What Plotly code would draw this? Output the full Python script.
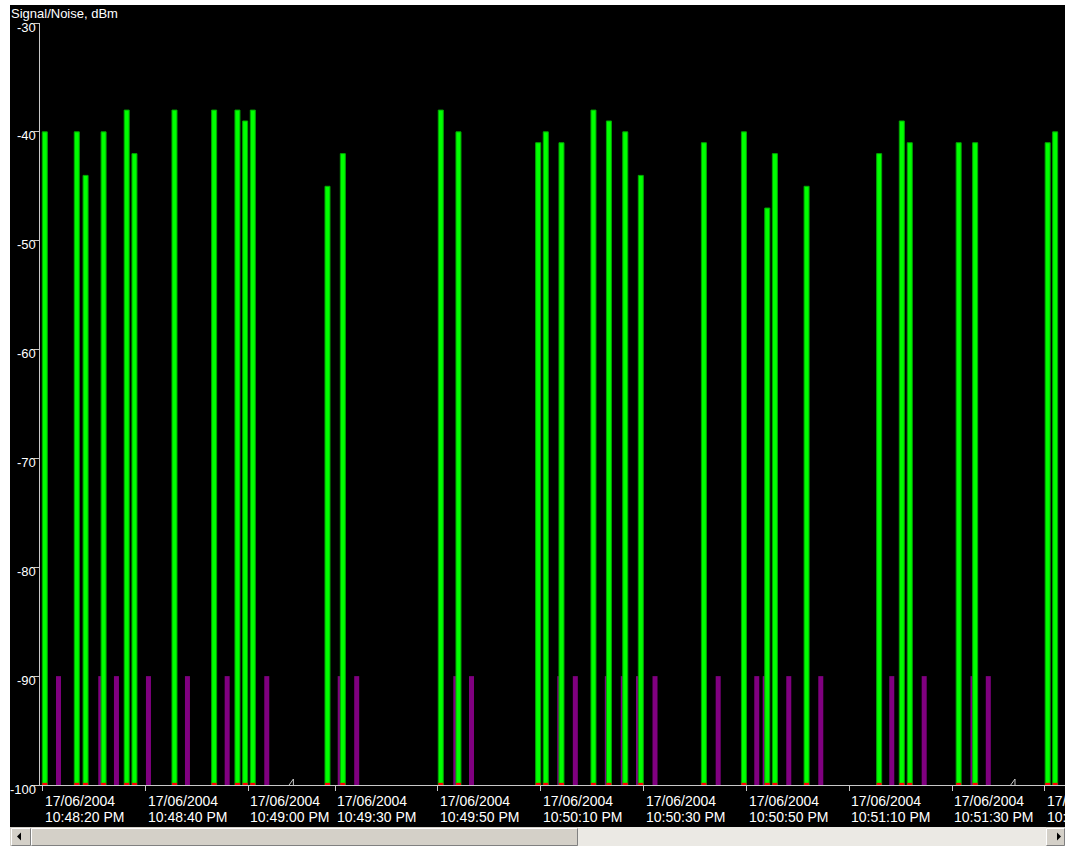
import plotly.graph_objects as go

# ---------------- data ----------------
DATE = "2004-06-17"

signal_times = [
    "22:48:20.41", "22:48:26.63", "22:48:28.34", "22:48:31.84", "22:48:36.33",
    "22:48:37.84", "22:48:45.62", "22:48:53.33", "22:48:57.86", "22:48:59.36",
    "22:49:00.84",
    "22:49:28.54", "22:49:31.52", "22:49:50.56", "22:49:54.00", "22:50:09.49",
    "22:50:10.97", "22:50:14.02", "22:50:20.24", "22:50:23.24", "22:50:26.42",
    "22:50:29.44", "22:50:41.70", "22:50:49.48", "22:50:54.02", "22:50:55.50",
    "22:51:01.66", "22:51:15.77", "22:51:20.17", "22:51:21.72", "22:51:31.22",
    "22:51:34.43",
    "22:52:00.52", "22:52:01.98",
]
signal_dbm = [
    -40, -40, -44, -40, -38, -42, -38, -38, -38, -39, -38,
    -45, -42, -38, -40, -41, -40, -41, -38, -39, -40, -44, -41, -40, -47, -42,
    -45, -42, -39, -41, -41, -41,
    -41, -40,
]
floor_dbm = [
    -99.8, -99.8, -99.8, -99.8, -99.8, -99.8, -99.8, -99.8, -99.8, -99.8, -99.8,
    -99.8, -99.8, -99.8, -99.8, -99.8, -99.8, -99.8, -99.8, -99.8, -99.8, -99.8,
    -99.8, -99.8, -99.8, -99.8, -99.8, -99.8, -99.8, -99.8, -99.8, -99.8,
    -99.8, -99.8,
]
noise_times = [
    "22:48:23.07", "22:48:31.29", "22:48:34.34", "22:48:40.56", "22:48:48.14",
    "22:48:55.86", "22:49:03.56",
    "22:49:31.01", "22:49:34.22", "22:49:53.48", "22:49:56.53", "22:50:13.69",
    "22:50:16.71", "22:50:22.93", "22:50:26.04", "22:50:28.99", "22:50:32.20",
    "22:50:44.48", "22:50:51.98", "22:50:53.62", "22:50:58.20", "22:51:04.42",
    "22:51:18.22", "22:51:24.52", "22:51:34.00", "22:51:36.98",
]
noise_dbm = [
    -90, -90, -90, -90, -90, -90, -90,
    -90, -90, -90, -90, -90, -90, -90, -90, -90, -90,
    -90, -90, -90, -90, -90, -90, -90, -90, -90,
]

tick_times = ["22:48:20", "22:48:40", "22:49:00", "22:49:30", "22:49:50", "22:50:10",
              "22:50:30", "22:50:50", "22:51:10", "22:51:30", "22:52:00"]
tick_dates = ["17/06/2004"] * 11
tick_clock = ["10:48:20 PM", "10:48:40 PM", "10:49:00 PM", "10:49:30 PM", "10:49:50 PM",
              "10:50:10 PM", "10:50:30 PM", "10:50:50 PM", "10:51:10 PM", "10:51:30 PM",
              "10:52:00 PM"]

y_ticks = [-100, -90, -80, -70, -60, -50, -40, -30]
y_labels = ["-100", "-90", "-80", "-70", "-60", "-50", "-40", "-30"]

break_starts = ["22:49:08.73", "22:51:42.17"]
break_lengths_ms = [13180, 12000]
x_start, x_end = "22:48:19.48", "22:52:03.89"

BAR_MS = 972
FONT = "Liberation Sans, Arial, sans-serif"


def ts(t):
    return f"{DATE} {t}"


# ---------------- figure ----------------
fig = go.Figure()
fig.add_trace(go.Bar(x=[ts(t) for t in noise_times], y=[v + 100 for v in noise_dbm], base=-100,
                     width=BAR_MS, marker=dict(color="#800080", line=dict(width=0)), name="Noise"))
fig.add_trace(go.Bar(x=[ts(t) for t in signal_times], y=[v + 100 for v in signal_dbm], base=-100,
                     width=BAR_MS, marker=dict(color="#00ff00", line=dict(width=1, color="#00a800")),
                     name="Signal"))
fig.add_trace(go.Bar(x=[ts(t) for t in signal_times], y=[v + 100 for v in floor_dbm], base=-100,
                     width=BAR_MS, marker=dict(color="#ff0000", line=dict(width=0)), name="Floor"))

W, H = 1065, 846
L, R, T, B = 40, 0, 23, 61
PW, PH = W - L - R, H - T - B


def xp(px):
    return (px - L) / PW


def yp(py):
    return (H - B - py) / PH


shapes = []
# black chart panel
shapes.append(dict(type="rect", xref="paper", yref="paper", x0=xp(10), x1=xp(1066), y0=yp(827), y1=yp(5),
                   fillcolor="black", line=dict(width=0), layer="below"))


def rect(x0, y0, x1, y1, fill):
    shapes.append(dict(type="rect", xref="paper", yref="paper", x0=xp(x0), x1=xp(x1), y0=yp(y1), y1=yp(y0),
                       fillcolor=fill, line=dict(width=0), layer="above"))


def line(x0, y0, x1, y1, col):
    shapes.append(dict(type="line", xref="paper", yref="paper", x0=xp(x0), x1=xp(x1), y0=yp(y0), y1=yp(y1),
                       line=dict(color=col, width=1), layer="above"))


def tri(pts):
    path = "M " + " L ".join(f"{xp(a)},{yp(b)}" for a, b in pts) + " Z"
    shapes.append(dict(type="path", xref="paper", yref="paper", path=path, fillcolor="black",
                       line=dict(width=0), layer="above"))


# scrollbar
rect(10, 827, 1066, 847, "#d4d0c8")
rect(578, 827, 1046, 847, "#ebe9e4")
for (a, b) in [(11, 31), (31, 578), (1046, 1065)]:
    rect(a, 828, b, 846, "#d4d0c8")
    line(a + 0.5, 828.5, b - 0.5, 828.5, "#ffffff")
    line(a + 0.5, 828.5, a + 0.5, 845.5, "#ffffff")
    line(a + 0.5, 845.5, b - 0.5, 845.5, "#808080")
    line(b - 0.5, 828.5, b - 0.5, 845.5, "#808080")
tri([(17, 836.5), (21, 832.5), (21, 840.5)])
tri([(1061, 836.5), (1057, 832.5), (1057, 840.5)])

# axis-break zigzags
for bs in break_starts:
    shapes.append(dict(type="path", xref="x", yref="y", xsizemode="pixel", ysizemode="pixel",
                       xanchor=ts(bs), yanchor=-100, path="M -5,-1 L 0,6 L 0,-4 L 4,-1",
                       line=dict(color="#c8c8c8", width=1), layer="above"))

annotations = [dict(text="Signal/Noise, dBm", xref="paper", yref="paper", x=xp(9), y=1,
                    xanchor="left", yanchor="bottom", yshift=0, showarrow=False,
                    font=dict(family=FONT, size=13, color="white"))]
for v, lab in zip(y_ticks, y_labels):
    annotations.append(dict(text=lab, xref="paper", yref="y", x=xp(38), y=v, xanchor="right",
                            yanchor="middle", yshift=-4, showarrow=False,
                            font=dict(family=FONT, size=13, color="white")))
for t, d, c in zip(tick_times, tick_dates, tick_clock):
    annotations.append(dict(text=d, xref="x", yref="paper", x=ts(t), y=0, xanchor="left", yanchor="top",
                            yshift=-6, showarrow=False, font=dict(family=FONT, size=14, color="white")))
    annotations.append(dict(text=c, xref="x", yref="paper", x=ts(t), y=0, xanchor="left", yanchor="top",
                            yshift=-22, showarrow=False, font=dict(family=FONT, size=14, color="white")))

fig.update_layout(
    width=W, height=H, autosize=False,
    margin=dict(l=L, r=R, t=T, b=B, pad=0),
    paper_bgcolor="white", plot_bgcolor="black",
    barmode="overlay", showlegend=False, hovermode=False,
    shapes=shapes, annotations=annotations,
    xaxis=dict(type="date", range=[ts(x_start), ts(x_end)],
               rangebreaks=[dict(values=[ts(b)], dvalue=d) for b, d in zip(break_starts, break_lengths_ms)],
               showgrid=False, zeroline=False, showline=True, linecolor="#c8c8c8", linewidth=1,
               ticks="outside", ticklen=5, tickcolor="#c8c8c8",
               tickvals=[ts(t) for t in tick_times], showticklabels=False, fixedrange=True),
    yaxis=dict(range=[-100, -30], showgrid=False, zeroline=False, showline=True, linecolor="#c8c8c8",
               linewidth=1, ticks="outside", ticklen=5, tickcolor="#c8c8c8",
               tickvals=y_ticks, showticklabels=False, fixedrange=True),
)

fig.write_html("out.html", config={"displayModeBar": False},
               post_script="document.body.style.margin='0';document.body.style.overflow='hidden';")
